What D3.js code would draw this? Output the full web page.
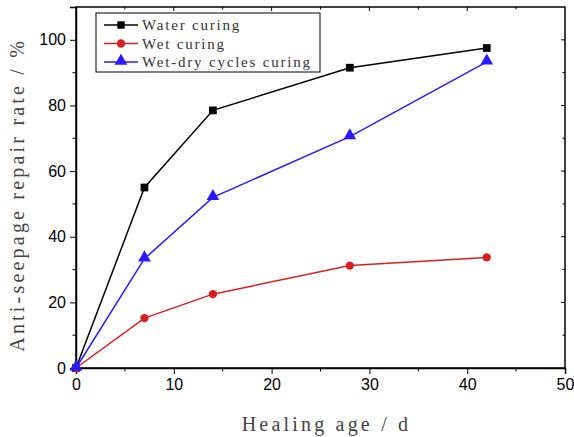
<!DOCTYPE html>
<html>
<head>
<meta charset="utf-8">
<script src="https://d3js.org/d3.v7.min.js"></script>
<style>
body { margin: 0; background: #fff; }
svg { display: block; }
</style>
</head>
<body>
<svg width="574" height="437"></svg>
<script>
var days = [0, 7, 14, 28, 42];
var waterCuring = [0, 55, 78.5, 91.5, 97.5];
var wetCuring = [0, 15.2, 22.5, 31.2, 33.7];
var wetDryCuring = [0, 33.3, 52, 70.5, 93.3];
var seriesNames = ["Water curing", "Wet curing", "Wet-dry cycles curing"];
var seriesColors = ["#000000", "#d42020", "#2a1aff"];
var seriesShapes = [d3.symbolSquare, d3.symbolCircle, d3.symbolTriangle];
var xTicks = [0, 10, 20, 30, 40, 50];
var yTicks = [0, 20, 40, 60, 80, 100];

var svg = d3.select("svg"),
    margin = {left: 76, right: 9, top: 7, bottom: 69},
    width = 574 - margin.left - margin.right,
    height = 437 - margin.top - margin.bottom;

var x = d3.scaleLinear().domain([0, 50]).range([0, width]);
var y = d3.scaleLinear().domain([0, 110]).range([height, 0]);

var g = svg.append("g").attr("transform", "translate(" + margin.left + "," + margin.top + ")");

var tickFont = "'Liberation Sans', Arial, sans-serif";
var titleFont = "'Liberation Serif', 'DejaVu Serif', serif";

// frame
g.append("rect").attr("width", width).attr("height", height)
    .attr("fill", "none").attr("stroke", "#000").attr("stroke-width", 1.5);

// bottom axis
var xAxis = g.append("g").attr("transform", "translate(0," + height + ")")
    .call(d3.axisBottom(x).tickValues(xTicks).tickSize(6).tickPadding(5));
xAxis.selectAll("text").style("font-family", tickFont).style("font-size", "16px").attr("fill", "#000");
xAxis.append("g").selectAll("line").data(d3.range(5, 50, 10)).enter().append("line")
    .attr("x1", d => x(d)).attr("x2", d => x(d)).attr("y1", 0).attr("y2", 3.5).attr("stroke", "#000");

// left axis
var yAxis = g.append("g")
    .call(d3.axisLeft(y).tickValues(yTicks).tickSize(6).tickPadding(4));
yAxis.selectAll("text").style("font-family", tickFont).style("font-size", "16px").attr("fill", "#000");
yAxis.append("g").selectAll("line").data(d3.range(10, 110, 20)).enter().append("line")
    .attr("y1", d => y(d)).attr("y2", d => y(d)).attr("x1", 0).attr("x2", -3.5).attr("stroke", "#000");
[xAxis, yAxis].forEach(a => { a.select(".domain").attr("stroke-width", 1.5); });

// mirrored ticks on top and right
g.append("g").selectAll("line").data(d3.range(5, 50, 5)).enter().append("line")
    .attr("x1", d => x(d)).attr("x2", d => x(d)).attr("y1", 0).attr("y2", d => d % 10 === 0 ? 4 : 2.5)
    .attr("stroke", "#000");
g.append("g").selectAll("line").data(d3.range(10, 110, 10)).enter().append("line")
    .attr("y1", d => y(d)).attr("y2", d => y(d)).attr("x1", width).attr("x2", d => width - (d % 20 === 0 ? 4 : 2.5))
    .attr("stroke", "#000");

// series
var allSeries = [waterCuring, wetCuring, wetDryCuring];
var line = d3.line().x((d, i) => x(days[i])).y(d => y(d));

allSeries.forEach(function(vals, k) {
    g.append("path").datum(vals).attr("d", line)
        .attr("fill", "none").attr("stroke", seriesColors[k]).attr("stroke-width", 1.5);
    var size = k === 2 ? 70 : (k === 0 ? 60 : 55);
    g.append("g").selectAll("path").data(vals).enter().append("path")
        .attr("transform", (d, i) => "translate(" + x(days[i]) + "," + (y(d) - (k === 2 ? 1 : 0)) + ")")
        .attr("d", d3.symbol().type(seriesShapes[k]).size(size))
        .attr("fill", seriesColors[k]);
});

// legend
var legend = g.append("g").attr("transform", "translate(20,6)");
legend.append("rect").attr("width", 224).attr("height", 59)
    .attr("fill", "#fff").attr("stroke", "#000").attr("stroke-width", 1);
seriesNames.forEach(function(name, k) {
    var ly = 12 + k * 18.5;
    legend.append("line").attr("x1", 8).attr("x2", 42).attr("y1", ly).attr("y2", ly)
        .attr("stroke", seriesColors[k]).attr("stroke-width", 1.5);
    legend.append("path").attr("transform", "translate(25," + (ly - (k === 2 ? 1 : 0)) + ")")
        .attr("d", d3.symbol().type(seriesShapes[k]).size(k === 2 ? 70 : 55))
        .attr("fill", seriesColors[k]);
    legend.append("text").attr("x", 46).attr("y", ly + 5).text(name)
        .style("font-family", titleFont).style("font-size", "15px")
        .style("letter-spacing", "1.8px").attr("fill", "#333");
});

// axis titles
svg.append("text").attr("x", margin.left + width / 2 + 6).attr("y", 431)
    .attr("text-anchor", "middle").text("Healing age / d")
    .style("font-family", titleFont).style("font-size", "20px")
    .style("letter-spacing", "3.2px").attr("fill", "#444");
svg.append("text").attr("transform", "translate(24," + (margin.top + y(54) + 4) + ") rotate(-90)")
    .attr("text-anchor", "middle").text("Anti-seepage repair rate / %")
    .style("font-family", titleFont).style("font-size", "20px")
    .style("letter-spacing", "3.2px").attr("fill", "#444");
</script>
</body>
</html>
